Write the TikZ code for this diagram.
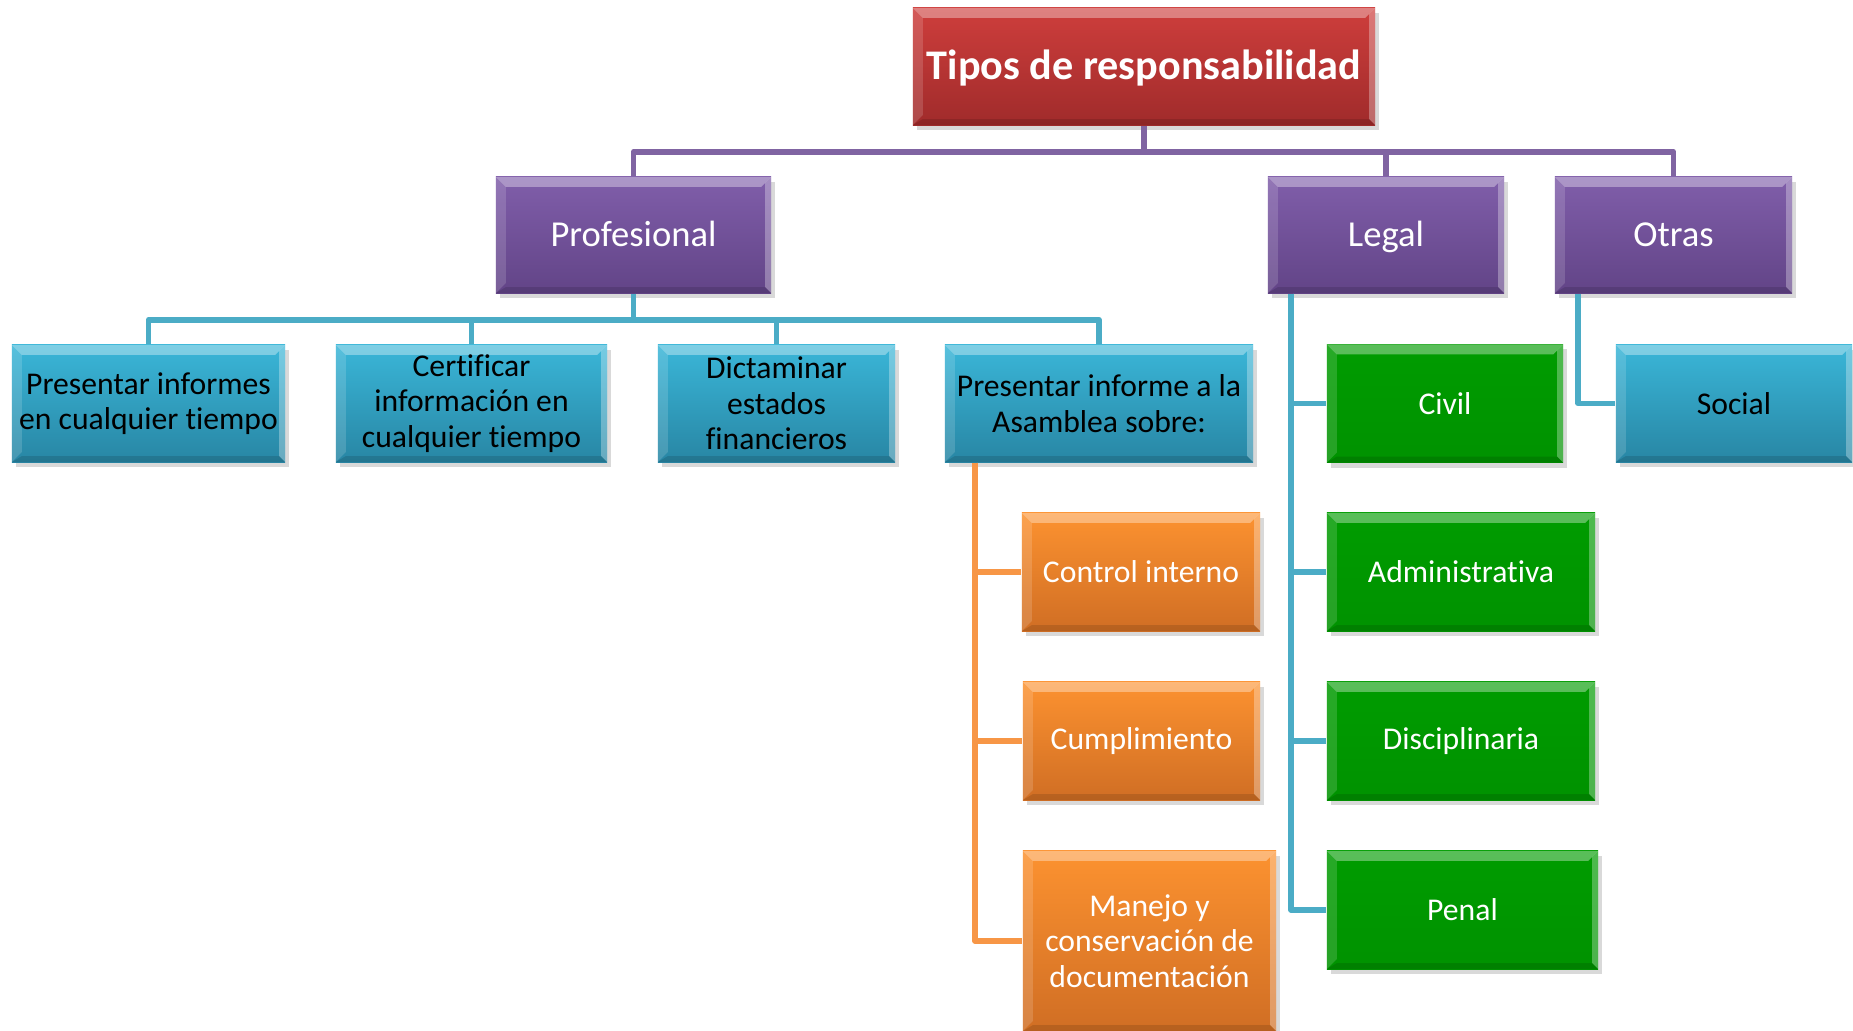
\documentclass[tikz,border=0pt]{standalone}
\usepackage{fontspec}
\setmainfont{Carlito}[RawFeature={-liga;-clig;-calt;-dlig}]
\usepackage{xcolor}
\usetikzlibrary{positioning,shadows}

\begin{document}
\begin{tikzpicture}
[x=0.01cm,y=-0.01cm,line join=round,
bevel/.style={path picture={
  \fill[white,opacity=0.35] (path picture bounding box.north west) -- (path picture bounding box.north east)
    -- ([shift={(-0.1cm,-0.1cm)}]path picture bounding box.north east) -- ([shift={(0.1cm,-0.1cm)}]path picture bounding box.north west) -- cycle;
  \fill[white,opacity=0.15] (path picture bounding box.north west) -- ([shift={(0.1cm,-0.1cm)}]path picture bounding box.north west)
    -- ([shift={(0.1cm,0.1cm)}]path picture bounding box.south west) -- (path picture bounding box.south west) -- cycle;
  \fill[white,opacity=0.3] (path picture bounding box.north east) -- ([shift={(-0.06cm,-0.06cm)}]path picture bounding box.north east)
    -- ([shift={(-0.06cm,0.06cm)}]path picture bounding box.south east) -- (path picture bounding box.south east) -- cycle;
  \fill[black,opacity=0.12] (path picture bounding box.south west) -- (path picture bounding box.south east)
    -- ([shift={(-0.06cm,0.06cm)}]path picture bounding box.south east) -- ([shift={(0.1cm,0.06cm)}]path picture bounding box.south west) -- cycle;}},
box/.style={rectangle,inner sep=0pt,align=center,bevel,
  drop shadow={opacity=0.3,shadow xshift=0.04cm,shadow yshift=-0.05cm},
  font=\fontsize{9}{10.1}\selectfont,minimum height=1.17cm},
title box/.style={box,top color=redtop,bottom color=redbot,text=white,font=\fontsize{12}{14}\selectfont\bfseries,
  text height=0.87em,text depth=0.15em},
type box/.style={box,top color=purtop,bottom color=purbot,text=white,font=\fontsize{10.4}{12}\selectfont,minimum height=1.16cm,
  text height=0.83em,text depth=0.2em},
teal box/.style={box,top color=tealtop,bottom color=tealbot,text=black},
orange box/.style={box,top color=orgtop,bottom color=orgbot,text=white,minimum height=1.18cm},
green box/.style={box,top color=grntop,bottom color=grnbot,text=white,minimum height=1.18cm},
purple line/.style={draw=purline,line width=1.6pt},
teal line/.style={draw=tealline,line width=1.6pt},
orange line/.style={draw=orgline,line width=1.6pt}]
% Colors
\definecolor{redtop}{RGB}{206,62,60}
\definecolor{redbot}{RGB}{160,43,43}
\definecolor{purtop}{RGB}{128,94,170}
\definecolor{purbot}{RGB}{98,68,135}
\definecolor{tealtop}{RGB}{58,182,216}
\definecolor{tealbot}{RGB}{40,134,164}
\definecolor{orgtop}{RGB}{252,146,48}
\definecolor{orgbot}{RGB}{208,110,36}
\definecolor{grntop}{RGB}{0,156,0}
\definecolor{grnbot}{RGB}{0,146,0}
\definecolor{purline}{RGB}{128,100,162}
\definecolor{tealline}{RGB}{75,172,198}
\definecolor{orgline}{RGB}{247,150,70}
\useasboundingbox (0,0) rectangle (1853,1031);
\clip (0,0) rectangle (1853,1031);
% The boxes
\node[title box,minimum width=4.62cm] (title) at (1144,66.5) {Tipos de responsabilidad};
\node[type box,minimum width=2.75cm] (prof) at (633.5,235) {Profesional};
\node[type box,minimum width=2.36cm] (legal) at (1386,235) {Legal};
\node[type box,minimum width=2.37cm] (otras) at (1673.5,235) {Otras};
\node[teal box,minimum width=2.73cm] (presentar) at (148.5,403.5) {Presentar informes\\en cualquier tiempo};
\node[teal box,minimum width=2.71cm] (certificar) at (471.5,403.5) {Certificar\\información en\\cualquier tiempo};
\node[teal box,minimum width=2.37cm] (dictaminar) at (776.5,403.5) {Dictaminar\\estados\\financieros};
\node[teal box,minimum width=3.08cm] (asamblea) at (1099,403.5) {Presentar informe a la\\Asamblea sobre:};
\node[orange box,minimum width=2.38cm] (control) at (1141,572) {Control interno};
\node[orange box,minimum width=2.37cm] (cumpl) at (1141.5,741) {Cumplimiento};
\node[orange box,minimum width=2.53cm,minimum height=1.8cm] (manejo) at (1149.5,941) {Manejo y\\conservación de\\documentación};
\node[green box,minimum width=2.36cm] (civil) at (1445,403.5) {Civil};
\node[green box,minimum width=2.68cm] (admin) at (1461,572) {Administrativa};
\node[green box,minimum width=2.68cm] (disc) at (1461,741) {Disciplinaria};
\node[green box,minimum width=2.71cm] (penal) at (1462.5,910) {Penal};
\node[teal box,minimum width=2.36cm] (social) at (1734,403.5) {Social};
% The connectors
\draw[purple line] (title.south) -- ++(0,26) coordinate (top bar);
\foreach \n in {prof,legal,otras}
\draw[purple line] (top bar) -| (\n.north);
\draw[teal line] (prof.south) -- ++(0,26) coordinate (mid bar);
\foreach \n in {presentar,certificar,dictaminar,asamblea}
\draw[teal line] (mid bar) -| (\n.north);
\foreach \n in {control,cumpl,manejo}
\draw[orange line] ([xshift=0.31cm]asamblea.south west) |- (\n.west);
\foreach \n in {civil,admin,disc,penal}
\draw[teal line] ([xshift=0.24cm]legal.south west) |- (\n.west);
\draw[teal line] ([xshift=0.24cm]otras.south west) |- (social.west);
\end{tikzpicture}
\end{document}
